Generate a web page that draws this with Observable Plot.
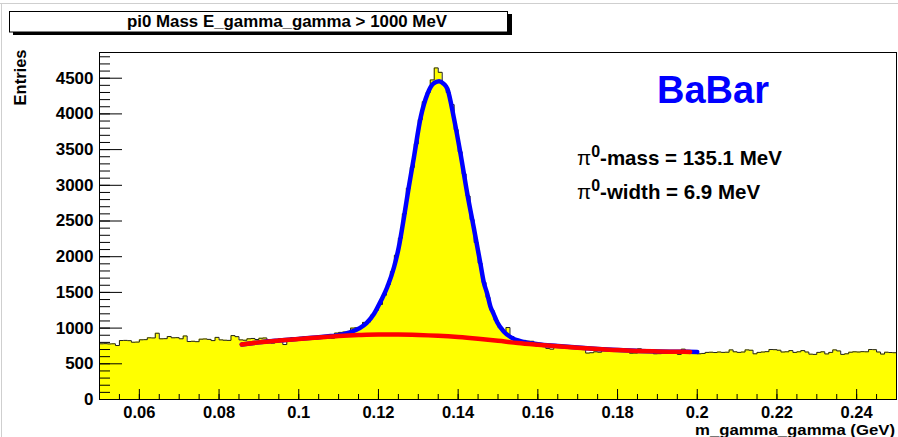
<!DOCTYPE html>
<html><head><meta charset="utf-8">
<script src="https://cdn.jsdelivr.net/npm/d3@7"></script>
<script src="https://cdn.jsdelivr.net/npm/@observablehq/plot@0.6"></script>
<style>
body{margin:0;background:#fff;}
#chart{width:898px;height:437px;}
svg text{font-family:"Liberation Sans",Arial,Helvetica,sans-serif;}
</style></head><body><div id="chart"></div>
<script>
// Histogram: 200 bins of width 0.001 GeV from 0.05 to 0.25
const binStart = 0.05;
const binWidth = 0.001;
const counts = [
  780, 782, 778, 780, 756, 826, 828, 824, 802, 804,
  836, 838, 864, 862, 928, 850, 852, 882, 864, 866,
  850, 890, 812, 815, 810, 845, 848, 842, 825, 870,
  835, 830, 828, 895, 880, 835, 830, 850, 855, 840,
  858, 862, 835, 790, 840, 850, 770, 850, 865, 858,
  870, 875, 880, 845, 850, 880, 885, 860, 858, 930,
  940, 945, 950, 1000, 1005, 1010, 1080, 1085, 1180, 1250,
  1330, 1460, 1610, 1790, 2020, 2260, 2600, 2960, 3250, 3580,
  3920, 4170, 4300, 4476, 4644, 4582, 4420, 4300, 4130, 3780,
  3470, 3160, 2850, 2520, 2200, 1910, 1640, 1430, 1250, 1110,
  1010, 955, 1008, 880, 850, 830, 828, 816, 815, 790,
  775, 760, 715, 705, 770, 765, 750, 745, 735, 740,
  728, 720, 650, 655, 668, 662, 710, 700, 698, 695,
  712, 705, 690, 648, 650, 710, 690, 688, 682, 640,
  642, 680, 685, 678, 672, 632, 705, 676, 670, 668,
  640, 645, 660, 662, 658, 665, 660, 662, 695, 668,
  660, 665, 695, 690, 640, 660, 665, 670, 700, 698,
  690, 665, 668, 685, 660, 668, 685, 665, 635, 632,
  660, 668, 638, 660, 695, 680, 632, 640, 662, 668,
  665, 670, 668, 700, 698, 665, 636, 662, 658, 655
];

// Total fit (blue)
const fitTotalX = [0.0857,0.090,0.095,0.100,0.105,0.108,0.110,0.1128,0.1153,0.1170,0.1189,0.1206,0.1222,0.1239,0.1251,0.1264,0.1276,0.1289,0.1306,0.1323,0.1338,0.1352,0.1363,0.1373,0.1389,0.1406,0.1423,0.1439,0.1456,0.1464,0.1473,0.1481,0.1489,0.1498,0.1515,0.1536,0.1556,0.160,0.165,0.170,0.175,0.180,0.185,0.190,0.195,0.200];
const fitTotalY = [770,800,826,849,872,888,900,940,1000,1070,1200,1380,1572,1852,2132,2552,2972,3392,3952,4280,4425,4456,4425,4350,3952,3440,2880,2412,1900,1650,1480,1300,1200,1082,950,860,818,775,750,727,707,692,681,673,669,666];

// Background fit (red)
const fitBkgX = [0.0857,0.090,0.095,0.100,0.105,0.110,0.115,0.120,0.125,0.130,0.135,0.140,0.145,0.150,0.155,0.160,0.165,0.170,0.175,0.180,0.185,0.190,0.195,0.1982];
const fitBkgY = [770,800,826,848,868,888,902,910,910,904,892,874,850,822,792,768,746,725,706,692,680,673,669,667];

const xMajorTicks = [0.06,0.08,0.10,0.12,0.14,0.16,0.18,0.20,0.22,0.24];
const xMinorTicks = d3.range(0, 41).map(i => +(0.05 + i*0.005).toFixed(3));
const yMajorTicks = [0,500,1000,1500,2000,2500,3000,3500,4000,4500];
const yMinorTicks = d3.range(1, 49).map(i => i*100);

const titleText = "pi0 Mass E_gamma_gamma > 1000 MeV";
const xTitle = "m_gamma_gamma (GeV)";
const yTitle = "Entries";
const brand = "BaBar";
const massText = "-mass = 135.1 MeV";
const widthText = "-width = 6.9 MeV";

const stepData = counts.flatMap((c, i) => [
  {x: binStart + i*binWidth, y: c},
  {x: binStart + (i+1)*binWidth, y: c}
]);
const totalFit = fitTotalX.map((x, i) => ({x, y: fitTotalY[i]}));
const bkgFit = fitBkgX.map((x, i) => ({x, y: fitBkgY[i]}));

const W = 898, H = 437, ML = 99, MR = 2, MT = 52, MB = 38;
const frameW = W - ML - MR, frameH = H - MT - MB;

const svg = Plot.plot({
  width: W, height: H,
  marginLeft: ML, marginRight: MR, marginTop: MT, marginBottom: MB,
  x: {domain: [0.05, 0.25]},
  y: {domain: [0, 4860]},
  style: {fontFamily: "'Liberation Sans', Arial, sans-serif", background: "white", color: "black"},
  marks: [
    Plot.areaY(stepData, {x: "x", y1: 0, y2: "y", fill: "#ffff00"}),
    Plot.lineY(stepData, {x: "x", y: "y", stroke: "#222", strokeWidth: 1}),
    Plot.line(totalFit, {x: "x", y: "y", stroke: "#0000ff", strokeWidth: 4.5, curve: "monotone-x"}),
    Plot.line(bkgFit, {x: "x", y: "y", stroke: "#ff0000", strokeWidth: 4.5, curve: "monotone-x"}),
    Plot.tickY(yMajorTicks, {y: d => d, insetRight: frameW - 23, stroke: "black"}),
    Plot.tickY(yMinorTicks, {y: d => d, insetRight: frameW - 11, stroke: "black"}),
    Plot.tickX(xMajorTicks, {x: d => d, insetTop: frameH - 10, stroke: "black"}),
    Plot.tickX(xMinorTicks, {x: d => d, insetTop: frameH - 5, stroke: "black"}),
    Plot.axisY(yMajorTicks, {tickSize: 0, tickPadding: 6, fontSize: 17, fontWeight: "bold", label: null, tickFormat: d => String(d)}),
    Plot.axisX(xMajorTicks, {tickSize: 0, tickPadding: 7, fontSize: 16.5, fontWeight: "bold", label: null, tickFormat: d => String(+d.toFixed(2))}),
    Plot.frame({stroke: "black"})
  ]
});
document.getElementById("chart").appendChild(svg);

const s = d3.select(svg);
// canvas border lines
s.append("line").attr("x1", 0).attr("x2", W).attr("y1", 3.5).attr("y2", 3.5).attr("stroke", "#cfcfcf");
s.append("line").attr("x1", 1.5).attr("x2", 1.5).attr("y1", 3).attr("y2", H).attr("stroke", "#cfcfcf");

// title box with shadow
s.append("rect").attr("x", 13).attr("y", 14).attr("width", 499).attr("height", 21).attr("fill", "black");
s.append("rect").attr("x", 9.5).attr("y", 11.5).attr("width", 498).attr("height", 20.5).attr("fill", "white").attr("stroke", "black");
s.append("text").attr("x", 287).attr("y", 27).attr("text-anchor", "middle")
  .attr("font-size", 17).attr("font-weight", "bold").attr("textLength", 320).attr("lengthAdjust", "spacingAndGlyphs")
  .text(titleText);

// axis titles
s.append("text").attr("transform", "translate(26,49.5) rotate(-90)").attr("text-anchor", "end")
  .attr("font-size", 16.5).attr("font-weight", "bold").text(yTitle);
s.append("text").attr("x", 895).attr("y", 435).attr("text-anchor", "end")
  .attr("font-size", 15.5).attr("font-weight", "bold")
  .attr("textLength", 200).attr("lengthAdjust", "spacingAndGlyphs").text(xTitle);

// annotations
s.append("text").attr("x", 657).attr("y", 103).attr("text-anchor", "start").attr("font-size", 38).attr("font-weight", "bold")
  .attr("fill", "#0000ff").text(brand);

function piLine(y, rest) {
  const t = s.append("text").attr("x", 577).attr("y", y).attr("text-anchor", "start")
    .attr("font-size", 20.5).attr("font-weight", "bold").attr("fill", "black");
  t.append("tspan").attr("font-weight", "normal").text("π");
  t.append("tspan").attr("font-size", 16).attr("dy", -8.5).text("0");
  t.append("tspan").attr("dy", 8.5).text(rest);
}
piLine(165, massText);
piLine(199, widthText);
</script></body></html>
